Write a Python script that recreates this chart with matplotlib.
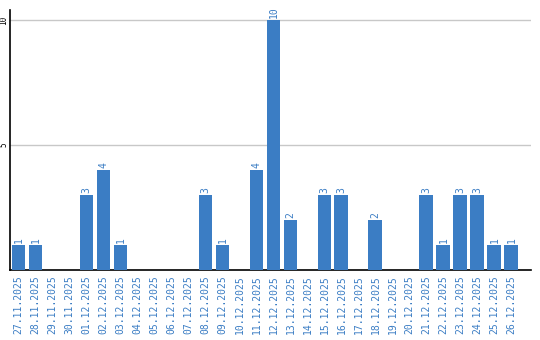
import numpy as np
import matplotlib
matplotlib.use('Agg')
import matplotlib.pyplot as plt

dates = ['27.11.2025', '28.11.2025', '29.11.2025', '30.11.2025', '01.12.2025',
         '02.12.2025', '03.12.2025', '04.12.2025', '05.12.2025', '06.12.2025',
         '07.12.2025', '08.12.2025', '09.12.2025', '10.12.2025', '11.12.2025',
         '12.12.2025', '13.12.2025', '14.12.2025', '15.12.2025', '16.12.2025',
         '17.12.2025', '18.12.2025', '19.12.2025', '20.12.2025', '21.12.2025',
         '22.12.2025', '23.12.2025', '24.12.2025', '25.12.2025', '26.12.2025']
counts = [1, 1, 0, 0, 3, 4, 1, 0, 0, 0, 0, 3, 1, 0, 4, 10, 2, 0, 3, 3,
          0, 2, 0, 0, 3, 1, 3, 3, 1, 1]
yticks = [5, 10]

blue = '#3b7dc4'
font = 'DejaVu Sans Mono'

fig = plt.figure(figsize=(5.4, 3.4), dpi=100)
ax = fig.add_axes([10/540, 1 - 270/340, 521/540, 260/340])

x = np.arange(len(dates))
ax.bar(x, counts, width=0.82, color=blue, zorder=3)

for xi, v in zip(x, counts):
    if v > 0:
        ax.text(xi, v + 0.08, str(v), rotation=90, ha='center', va='bottom',
                color=blue, fontsize=7, family=font)

ax.set_xlim(-0.5, 30.15)
ax.set_ylim(0, 10.4)
ax.set_yticks(yticks)
ax.set_yticklabels([str(t) for t in yticks], rotation=90, va='center',
                   fontsize=5.5, family=font)
ax.yaxis.grid(True, color='#c8c8c8', linewidth=1, zorder=0)
ax.tick_params(axis='y', length=0, pad=1)

ax.set_xticks(x)
ax.set_xticklabels(dates, rotation=90, color=blue, fontsize=7, family=font)
ax.tick_params(axis='x', length=0, pad=4)

for s in ['top', 'right']:
    ax.spines[s].set_visible(False)
ax.spines['left'].set_linewidth(1.2)
ax.spines['bottom'].set_linewidth(1.2)

fig.savefig('out.png', dpi=100)
